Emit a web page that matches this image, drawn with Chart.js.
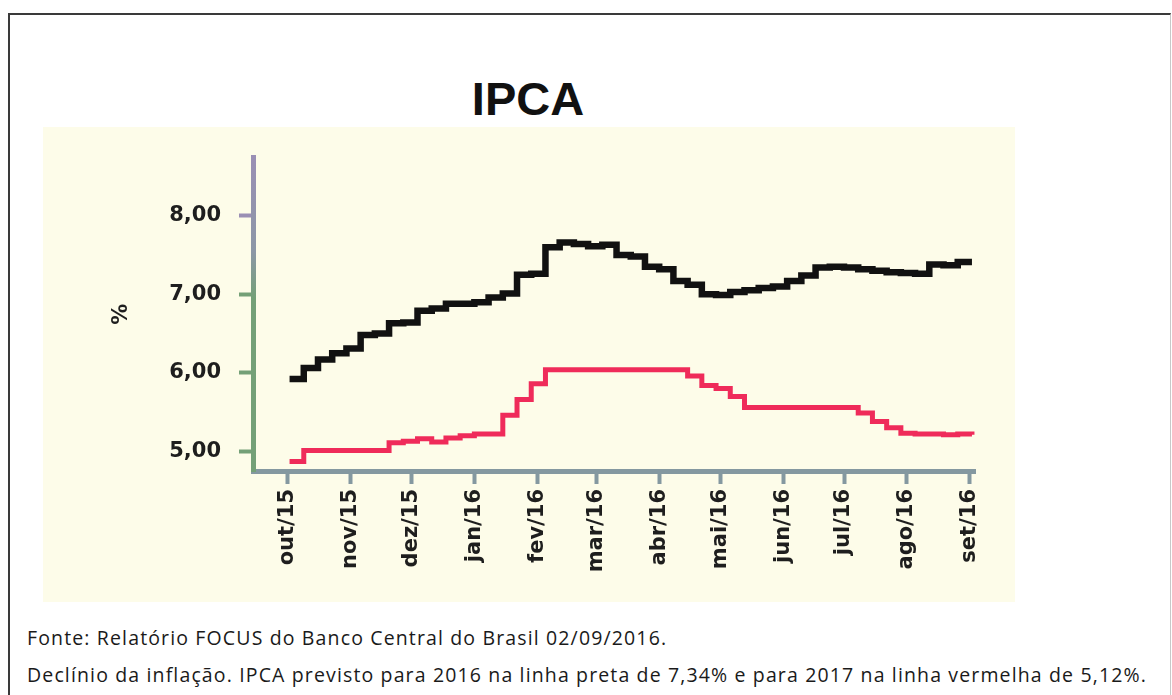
<!DOCTYPE html>
<html>
<head>
<meta charset="utf-8">
<script src="https://cdn.jsdelivr.net/npm/chart.js@4.4.1/dist/chart.umd.min.js"></script>
<style>
  html, body { margin: 0; padding: 0; background: #ffffff; }
  body { width: 1172px; height: 695px; position: relative; overflow: hidden; }
  .frame {
    position: absolute; left: 8px; top: 13px; width: 1160px; height: 720px;
    border-left: 2px solid #3a3a3a; border-top: 2px solid #3a3a3a; border-right: 1px solid #c8c8c8;
  }
  .titulo {
    position: absolute; left: 0; width: 1056px; top: 71px; text-align: center;
    font-family: "Liberation Sans", Arial, sans-serif; font-weight: bold; font-size: 47px; color: #111;
  }
  .fundo { position: absolute; left: 43px; top: 127px; width: 972px; height: 475px; background: #fdfce9; }
  .fundo canvas { position: absolute; left: 0; top: 0; }
  .nota {
    position: absolute; left: 27px; font-family: "Open Sans", Lato, sans-serif; font-size: 19.5px; color: #1a1a1a;
    white-space: nowrap;
  }
</style>
</head>
<body>
<div class="frame"></div>
<div class="titulo">IPCA</div>
<div class="fundo"><canvas id="ipca" width="972" height="475"></canvas></div>
<div class="nota" id="nota1" style="top:624px">Fonte: Relatório FOCUS do Banco Central do Brasil 02/09/2016.</div>
<div class="nota" id="nota2" style="top:661px">Declínio da inflação. IPCA previsto para 2016 na linha preta de 7,34% e para 2017 na linha vermelha de 5,12%.</div>
<script>
// datas dos relatórios Focus (semanais)
const datasFocus = [
  '2015-10-02', '2015-10-09', '2015-10-16', '2015-10-23', '2015-10-30',
  '2015-11-06', '2015-11-13', '2015-11-20', '2015-11-27',
  '2015-12-04', '2015-12-11', '2015-12-18', '2015-12-25',
  '2016-01-01', '2016-01-08', '2016-01-15', '2016-01-22', '2016-01-29',
  '2016-02-05', '2016-02-12', '2016-02-19', '2016-02-26',
  '2016-03-04', '2016-03-11', '2016-03-18', '2016-03-25',
  '2016-04-01', '2016-04-08', '2016-04-15', '2016-04-22', '2016-04-29',
  '2016-05-06', '2016-05-13', '2016-05-20', '2016-05-27',
  '2016-06-03', '2016-06-10', '2016-06-17', '2016-06-24',
  '2016-07-01', '2016-07-08', '2016-07-15', '2016-07-22', '2016-07-29',
  '2016-08-05', '2016-08-12', '2016-08-19', '2016-08-26', '2016-09-02'
];

// IPCA 2016 (linha preta) e IPCA 2017 (linha vermelha), em %
const ipca2016 = [
  5.92, 6.06, 6.17, 6.25, 6.31, 6.48, 6.50, 6.63, 6.64, 6.79,
  6.82, 6.88, 6.88, 6.90, 6.96, 7.01, 7.25, 7.26, 7.60, 7.66,
  7.64, 7.61, 7.63, 7.50, 7.48, 7.35, 7.32, 7.17, 7.12, 7.00,
  6.99, 7.03, 7.05, 7.08, 7.10, 7.17, 7.24, 7.34, 7.35, 7.34,
  7.32, 7.30, 7.28, 7.27, 7.26, 7.38, 7.37, 7.41, 7.41
];
const ipca2017 = [
  4.87, 5.01, 5.01, 5.01, 5.01, 5.01, 5.01, 5.11, 5.13, 5.16,
  5.12, 5.17, 5.20, 5.22, 5.22, 5.46, 5.66, 5.86, 6.04, 6.04,
  6.04, 6.04, 6.04, 6.04, 6.04, 6.04, 6.04, 6.04, 5.96, 5.84,
  5.80, 5.70, 5.56, 5.56, 5.56, 5.56, 5.56, 5.56, 5.56, 5.56,
  5.49, 5.38, 5.30, 5.23, 5.22, 5.22, 5.21, 5.22, 5.21
];

const mesesDatas = [
  '2015-10-01', '2015-11-01', '2015-12-01', '2016-01-01', '2016-02-01', '2016-03-01',
  '2016-04-01', '2016-05-01', '2016-06-01', '2016-07-01', '2016-08-01', '2016-09-01'
];
const mesesLabels = ['out/15', 'nov/15', 'dez/15', 'jan/16', 'fev/16', 'mar/16',
  'abr/16', 'mai/16', 'jun/16', 'jul/16', 'ago/16', 'set/16'];
const yTicks = [5, 6, 7, 8];

// ajusta o espaçamento das notas para a largura do original
const n2 = document.getElementById('nota2');
const ls = (1120 - n2.getBoundingClientRect().width) / n2.textContent.length;
n2.style.letterSpacing = ls + 'px';
document.getElementById('nota1').style.letterSpacing = ls + 'px';

// dias contados a partir de 01/10/2015
const inicio = Date.UTC(2015, 9, 1);
function dia(s) {
  const p = s.split('-');
  return Math.round((Date.UTC(+p[0], +p[1] - 1, +p[2]) - inicio) / 86400000);
}
const xDias = datasFocus.map(dia);
const xMeses = mesesDatas.map(dia);

const verde = '#74a077';
const roxo = '#9a8fb4';
const corX = '#8498a0';
const fonteEixo = { family: '"DejaVu Sans", sans-serif', size: 21, weight: 'bold' };

// eixo y: roxo no topo, verde embaixo (como no original escaneado)
function gradY(ctx) {
  const s = ctx.scale;
  if (!s || !isFinite(s.top) || s.bottom <= s.top) return verde;
  const g = ctx.chart.ctx.createLinearGradient(0, s.top, 0, s.bottom);
  g.addColorStop(0, roxo);
  g.addColorStop(0.3, '#8c97a6');
  g.addColorStop(0.45, verde);
  g.addColorStop(1, verde);
  return g;
}

new Chart(document.getElementById('ipca'), {
  type: 'line',
  data: {
    datasets: [
      {
        label: 'IPCA 2016',
        data: xDias.map((d, i) => ({ x: d, y: ipca2016[i] })),
        borderColor: '#111111',
        borderWidth: 6.5,
        stepped: true,
        pointRadius: 0,
        borderJoinStyle: 'miter'
      },
      {
        label: 'IPCA 2017',
        data: xDias.map((d, i) => ({ x: d, y: ipca2017[i] })),
        borderColor: '#ef2b5a',
        borderWidth: 5,
        stepped: true,
        pointRadius: 0,
        borderJoinStyle: 'miter'
      }
    ]
  },
  options: {
    responsive: false,
    animation: false,
    layout: { padding: { left: 0, right: 40, top: 30, bottom: 0 } },
    plugins: { legend: { display: false }, tooltip: { enabled: false } },
    scales: {
      x: {
        type: 'linear',
        min: -17,
        max: 338.5,
        afterBuildTicks: (s) => { s.ticks = xMeses.map(v => ({ value: v })); },
        afterFit: (s) => { s.height = 131; },
        ticks: {
          autoSkip: false,
          minRotation: 90,
          maxRotation: 90,
          padding: 5,
          color: '#1e1e1e',
          font: fonteEixo,
          callback: (v) => mesesLabels[xMeses.indexOf(v)]
        },
        grid: { drawOnChartArea: false, tickLength: 13, tickWidth: 4, tickColor: corX },
        border: { display: true, color: corX, width: 5 }
      },
      y: {
        min: 4.75,
        max: 8.74,
        afterBuildTicks: (s) => { s.ticks = yTicks.map(v => ({ value: v })); },
        afterFit: (s) => { s.width = 210; },
        ticks: {
          padding: 18,
          color: '#1e1e1e',
          font: fonteEixo,
          callback: (v) => v.toFixed(2).replace('.', ',')
        },
        title: {
          display: true,
          text: '%',
          color: '#1e1e1e',
          font: { family: '"DejaVu Sans", sans-serif', size: 21, weight: 'bold' },
          padding: { top: 66, bottom: 0 }
        },
        grid: {
          drawOnChartArea: false, tickLength: 14, tickWidth: 4,
          tickColor: (c) => (c.tick && c.tick.value === 8 ? roxo : verde)
        },
        border: { display: true, color: gradY, width: 5 }
      }
    }
  }
});
</script>
</body>
</html>
